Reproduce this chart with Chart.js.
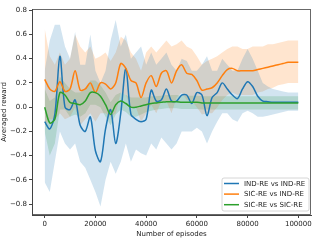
<!DOCTYPE html>
<html>
<head>
<meta charset="utf-8">
<script src="https://cdn.jsdelivr.net/npm/chart.js@4.4.1/dist/chart.umd.min.js"></script>
<style>
html,body{margin:0;padding:0;background:#fff;}
#wrap{width:320px;height:240px;position:relative;}
</style>
</head>
<body>
<div id="wrap"><canvas id="c" width="320" height="240"></canvas></div>
<script>
const episodes = [0,2000,4000,6000,8000,10000,12000,14000,16000,18000,20000,22000,24000,26000,28000,30000,32000,34000,36000,38000,40000,42000,44000,46000,48000,50000,52000,54000,56000,58000,60000,62000,64000,66000,68000,70000,72000,74000,76000,78000,80000,82000,84000,86000,88000,90000,92000,94000,96000,98000,100000];

const seriesNames = ["IND-RE vs IND-RE", "SIC-RE vs IND-RE", "SIC-RE vs SIC-RE"];

const indMean = [-0.12,-0.18,-0.06,0.42,0.0,-0.02,0.06,-0.15,-0.2,-0.08,-0.36,-0.45,-0.18,-0.02,-0.3,-0.05,0.32,-0.06,-0.1,-0.12,-0.1,0.14,0.05,0.06,0.15,0.05,0.05,0.1,0.1,0.03,0.12,0.1,-0.07,0.08,0.12,0.2,0.15,0.1,0.07,0.15,0.21,0.17,0.09,0.05,0.045,0.04,0.04,0.04,0.04,0.04,0.04];
const indHi = [0.3,0.55,0.68,0.68,0.5,0.4,0.62,0.35,0.35,0.6,0.3,0.2,0.3,0.55,0.72,0.5,0.6,0.4,0.45,0.5,0.35,0.45,0.35,0.4,0.45,0.35,0.3,0.4,0.38,0.3,0.3,0.35,0.42,0.3,0.3,0.4,0.35,0.3,0.3,0.4,0.48,0.4,0.3,0.2,0.17,0.15,0.14,0.13,0.12,0.12,0.12];
const indLo = [-0.62,-0.7,-0.45,-0.2,-0.3,-0.35,-0.3,-0.45,-0.5,-0.6,-0.7,-0.82,-0.6,-0.45,-0.55,-0.45,-0.3,-0.45,-0.35,-0.38,-0.4,-0.3,-0.35,-0.25,-0.3,-0.35,-0.3,-0.2,-0.2,-0.2,-0.17,-0.2,-0.3,-0.2,-0.12,-0.05,-0.05,-0.1,-0.12,-0.05,-0.03,-0.05,-0.08,-0.08,-0.07,-0.06,-0.05,-0.04,-0.03,-0.03,-0.03];

const sicIndMean = [0.23,0.15,0.13,0.21,0.13,0.15,0.3,0.14,0.15,0.2,0.12,0.2,0.19,0.15,0.2,0.36,0.32,0.22,0.2,0.08,0.2,0.26,0.17,0.28,0.3,0.2,0.3,0.35,0.28,0.27,0.22,0.14,0.15,0.16,0.2,0.26,0.31,0.32,0.3,0.3,0.3,0.3,0.31,0.32,0.33,0.34,0.35,0.36,0.37,0.37,0.37];
const sicIndHi = [0.65,0.42,0.35,0.45,0.35,0.4,0.6,0.5,0.45,0.5,0.4,0.42,0.45,0.38,0.45,0.58,0.55,0.45,0.4,0.3,0.45,0.5,0.45,0.5,0.55,0.5,0.52,0.55,0.5,0.48,0.42,0.35,0.38,0.4,0.42,0.45,0.48,0.5,0.5,0.48,0.48,0.5,0.5,0.5,0.52,0.52,0.53,0.54,0.55,0.55,0.55];
const sicIndLo = [-0.15,-0.1,-0.1,-0.05,-0.1,-0.08,0.0,-0.15,-0.1,-0.05,-0.12,-0.05,-0.05,-0.08,-0.05,0.12,0.1,0.0,0.0,-0.12,-0.05,0.02,-0.05,0.05,0.05,-0.05,0.08,0.12,0.06,0.05,0.0,-0.06,-0.05,-0.05,0.0,0.06,0.1,0.12,0.1,0.1,0.1,0.1,0.12,0.13,0.15,0.16,0.18,0.19,0.2,0.2,0.2];

const sicSicMean = [0.0,-0.13,-0.1,0.12,0.1,0.04,0.03,0.02,0.05,0.12,0.12,0.09,0.02,-0.06,0.02,0.05,0.03,0.0,0.0,0.01,0.02,0.03,0.035,0.04,0.045,0.045,0.045,0.04,0.04,0.04,0.04,0.035,0.035,0.035,0.035,0.035,0.035,0.035,0.035,0.035,0.035,0.035,0.035,0.035,0.035,0.035,0.035,0.035,0.035,0.035,0.035];
const sicSicHi = [0.15,0.05,0.08,0.25,0.2,0.15,0.12,0.12,0.15,0.22,0.22,0.18,0.12,0.04,0.1,0.12,0.1,0.08,0.08,0.08,0.08,0.09,0.09,0.095,0.1,0.1,0.1,0.095,0.095,0.095,0.095,0.09,0.09,0.09,0.09,0.09,0.09,0.09,0.09,0.09,0.09,0.09,0.09,0.09,0.09,0.09,0.09,0.09,0.09,0.09,0.09];
const sicSicLo = [-0.2,-0.4,-0.3,-0.02,-0.02,-0.08,-0.06,-0.08,-0.05,0.02,0.02,0.0,-0.08,-0.15,-0.06,-0.02,-0.04,-0.08,-0.08,-0.06,-0.04,-0.03,-0.02,-0.015,-0.01,-0.01,-0.01,-0.015,-0.015,-0.015,-0.015,-0.02,-0.02,-0.02,-0.02,-0.02,-0.02,-0.02,-0.02,-0.02,-0.02,-0.02,-0.02,-0.02,-0.02,-0.02,-0.02,-0.02,-0.02,-0.02,-0.02];

const xTicks = [0,20000,40000,60000,80000,100000];
const yTicks = [-0.8,-0.6,-0.4,-0.2,0.0,0.2,0.4,0.6,0.8];

const colors = ["#1f77b4","#ff7f0e","#2ca02c"];
const bands = ["rgba(31,119,180,0.2)","rgba(255,127,14,0.2)","rgba(44,160,44,0.2)"];
const FONT = "'DejaVu Sans', sans-serif";

function pts(arr){ return episodes.map((e,i)=>({x:e,y:arr[i]})); }

const groups = [[indMean,indHi,indLo],[sicIndMean,sicIndHi,sicIndLo],[sicSicMean,sicSicHi,sicSicLo]];
const datasets = [];
groups.forEach((g,i)=>{
  datasets.push({label:'hi'+i,data:pts(g[1]),borderWidth:0,pointRadius:0,backgroundColor:bands[i],fill:'+1',tension:0,order:10+i});
  datasets.push({label:'lo'+i,data:pts(g[2]),borderWidth:0,pointRadius:0,backgroundColor:bands[i],fill:false,tension:0,order:10+i});
});
groups.forEach((g,i)=>{
  datasets.push({label:seriesNames[i],data:pts(g[0]),borderColor:colors[i],borderWidth:1.5,pointRadius:0,fill:false,tension:0.3,order:3-i});
});

const framePlugin = {
  id:'frame',
  afterDatasetsDraw(chart){
    const a = chart.chartArea, ctx = chart.ctx;
    ctx.save();
    ctx.strokeStyle = '#444'; ctx.lineWidth = 0.8;
    ctx.strokeRect(a.left+0.5, a.top+0.5, a.right-a.left-1, a.bottom-a.top-1);
    ctx.restore();
  },
  afterDraw(chart){
    const ctx = chart.ctx;
    const bx = 222, by = 178, bw = 87, bh = 33, r = 2;
    ctx.save();
    ctx.beginPath();
    ctx.moveTo(bx+r,by); ctx.lineTo(bx+bw-r,by); ctx.arcTo(bx+bw,by,bx+bw,by+r,r);
    ctx.lineTo(bx+bw,by+bh-r); ctx.arcTo(bx+bw,by+bh,bx+bw-r,by+bh,r);
    ctx.lineTo(bx+r,by+bh); ctx.arcTo(bx,by+bh,bx,by+bh-r,r);
    ctx.lineTo(bx,by+r); ctx.arcTo(bx,by,bx+r,by,r); ctx.closePath();
    ctx.fillStyle = 'rgba(255,255,255,0.8)'; ctx.fill();
    ctx.strokeStyle = '#cccccc'; ctx.lineWidth = 0.8; ctx.stroke();
    ctx.font = '7px ' + FONT; ctx.textBaseline = 'middle'; ctx.textAlign = 'left';
    seriesNames.forEach((n,i)=>{
      const y = 183.5 + i*10.6;
      ctx.strokeStyle = colors[i]; ctx.lineWidth = 1.5;
      ctx.beginPath(); ctx.moveTo(224,y); ctx.lineTo(239,y); ctx.stroke();
      ctx.fillStyle = '#222'; ctx.fillText(n, 244, y+0.5);
    });
    ctx.restore();
  }
};

new Chart(document.getElementById('c'), {
  type:'line',
  data:{datasets},
  options:{
    responsive:false, animation:false, events:[],
    layout:{padding:{top:9,right:9,left:0,bottom:0}},
    plugins:{legend:{display:false},tooltip:{enabled:false}},
    scales:{
      x:{type:'linear',min:-5000,max:105000,
        afterBuildTicks:(s)=>{s.ticks = xTicks.map(v=>({value:v}));},
        afterFit:(s)=>{s.height = 25;},
        ticks:{callback:(v)=>String(v),font:{family:FONT,size:7},color:'#222',padding:2,maxRotation:0,autoSkip:false},
        grid:{display:true,drawOnChartArea:false,drawTicks:true,tickLength:3,color:'#444'},
        border:{display:true,color:'#444'},
        title:{display:true,text:'Number of episodes',font:{family:FONT,size:7},color:'#222',padding:{top:0,bottom:2}}
      },
      y:{type:'linear',min:-0.89,max:0.81,
        afterBuildTicks:(s)=>{s.ticks = yTicks.map(v=>({value:v}));},
        afterFit:(s)=>{s.width = 32;},
        ticks:{callback:(v)=>(v<0?'\u2212':'')+Math.abs(v).toFixed(1),font:{family:FONT,size:7},color:'#222',padding:2,autoSkip:false},
        grid:{display:true,drawOnChartArea:false,drawTicks:true,tickLength:3,color:'#444'},
        border:{display:true,color:'#444'},
        title:{display:true,text:'Averaged reward',font:{family:FONT,size:7},color:'#222',padding:0}
      }
    }
  },
  plugins:[framePlugin]
});
</script>
</body>
</html>
